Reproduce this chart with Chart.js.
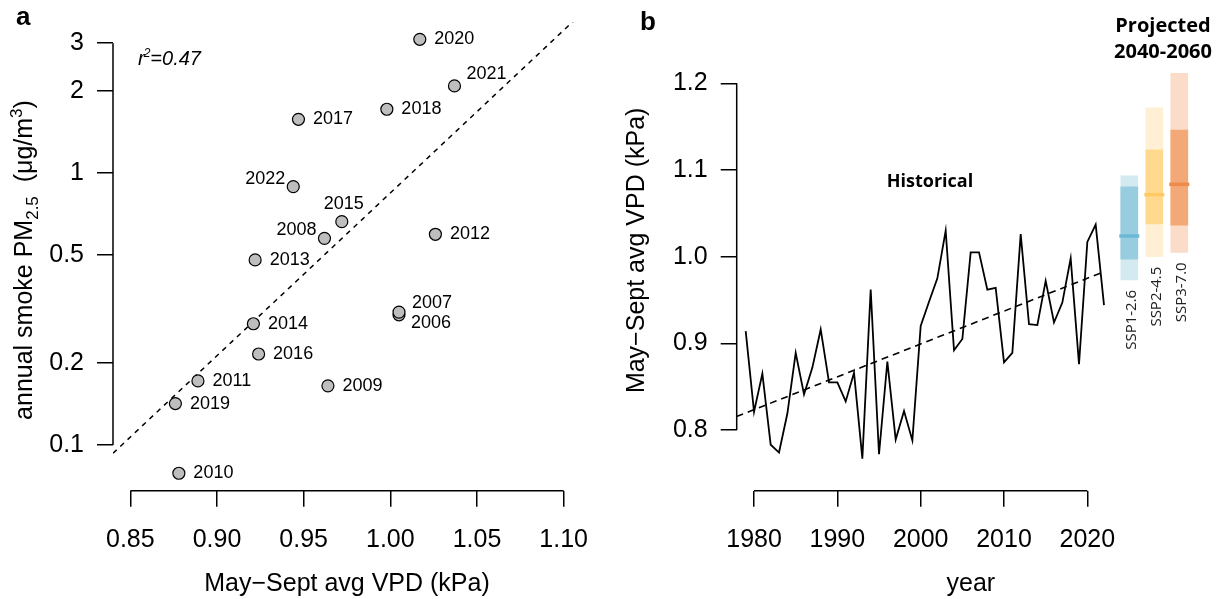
<!DOCTYPE html>
<html>
<head>
<meta charset="utf-8">
<script src="https://cdn.jsdelivr.net/npm/chart.js@4.4.1/dist/chart.umd.min.js"></script>
<style>
	html, body { margin: 0; padding: 0; background: #fff; }
	#wrap { position: relative; width: 1226px; height: 599px; overflow: hidden; }
	.box { position: absolute; top: 0; height: 599px; }
	#boxA { left: 0; width: 600px; }
	#boxB { left: 600px; width: 626px; }
	#boxP { left: 1100px; width: 126px; }
</style>
</head>
<body>
<div id="wrap">
	<div class="box" id="boxA"><canvas id="chart-a"></canvas></div>
	<div class="box" id="boxB"><canvas id="chart-b"></canvas></div>
	<div class="box" id="boxP"><canvas id="chart-p"></canvas></div>
</div>
<script>
( function() {
	'use strict';

	// May-Sept average VPD (kPa), 1979-2022
	var years = [1979, 1980, 1981, 1982, 1983, 1984, 1985, 1986, 1987, 1988,
		1989, 1990, 1991, 1992, 1993, 1994, 1995, 1996, 1997, 1998,
		1999, 2000, 2001, 2002, 2003, 2004, 2005, 2006, 2007, 2008,
		2009, 2010, 2011, 2012, 2013, 2014, 2015, 2016, 2017, 2018,
		2019, 2020, 2021, 2022];
	var vpd = [0.914, 0.821, 0.865, 0.783, 0.774, 0.819, 0.889, 0.841, 0.872, 0.916,
		0.855, 0.855, 0.833, 0.866, 0.767, 0.962, 0.772, 0.879, 0.789, 0.822,
		0.788, 0.920, 0.948, 0.975, 1.030, 0.892, 0.905, 1.005, 1.005, 0.962,
		0.964, 0.878, 0.889, 1.026, 0.922, 0.921, 0.972, 0.924, 0.947, 0.998,
		0.876, 1.017, 1.037, 0.944];
	var trendYears = [1977.9, 2022.1];
	var trendVpd = [0.8155, 0.983];

	// annual smoke PM2.5 (ug/m3), 2006-2022
	var smokeYears = [2006, 2007, 2008, 2009, 2010, 2011, 2012, 2013, 2014,
		2015, 2016, 2017, 2018, 2019, 2020, 2021, 2022];
	var smokePm = [0.301, 0.308, 0.575, 0.165, 0.0787, 0.172, 0.595, 0.479, 0.279,
		0.662, 0.216, 1.575, 1.715, 0.142, 3.10, 2.09, 0.891];
	var fitVpd = [0.84, 1.11];
	var fitPm = [0.0932, 3.84];
	var r2 = '0.47';

	// projected 2040-2060
	var scenarios = ['SSP1-2.6', 'SSP2-4.5', 'SSP3-7.0'];
	var projOuter = [[0.975, 1.096], [1.002, 1.175], [1.007, 1.215]];
	var projInner = [[0.999, 1.083], [1.040, 1.126], [1.0385, 1.149]];
	var projMedian = [1.026, 1.074, 1.086];

	var xTicksA = [0.85, 0.90, 0.95, 1.00, 1.05, 1.10];
	var yTicksA = [0.1, 0.2, 0.5, 1, 2, 3];
	var xTicksB = [1980, 1990, 2000, 2010, 2020];
	var yTicksB = [0.8, 0.9, 1.0, 1.1, 1.2];

	var FONT = "'Liberation Sans', Arial, sans-serif";
	var FONT2 = "'Open Sans', 'Noto Sans', sans-serif";
	var outerColors = ['#D3EAF1', '#FFF0D5', '#FBDCC8'];
	var innerColors = ['#98CDE0', '#FFDA8E', '#F2A877'];
	var medianColors = ['#6BB9D5', '#FFC965', '#EE8A4C'];

	Chart.defaults.font.family = FONT;
	Chart.defaults.color = '#000';
	Chart.defaults.animation = false;
	Chart.defaults.plugins.legend.display = false;
	Chart.defaults.plugins.tooltip.enabled = false;

	function setTicks(list) {
		return function(scale) {
			scale.ticks = list.map(function(v) { return {value: v}; });
		};
	}
	function fixSize(w, h) {
		return function(scale) {
			if (w !== null) scale.width = w;
			if (h !== null) scale.height = h;
			scale.paddingTop = 0; scale.paddingBottom = 0;
			scale.paddingLeft = 0; scale.paddingRight = 0;
		};
	}
	function rAxis(opts) {
		// R style: ticks outward, axis line only between first and last tick
		return Object.assign({
			border: {display: false},
			grid: {drawOnChartArea: false, drawTicks: true, tickLength: 16, color: '#000', lineWidth: 1.5},
			ticks: {font: {size: 25}, color: '#000', padding: 13, autoSkip: false, maxRotation: 0, minRotation: 0}
		}, opts);
	}

	var axisLines = {
		id: 'axisLines',
		afterDraw: function(chart) {
			var ctx = chart.ctx, area = chart.chartArea;
			var xs = chart.scales.x, ys = chart.scales.y;
			ctx.save();
			ctx.strokeStyle = '#000';
			ctx.lineWidth = 1.5;
			ctx.beginPath();
			ctx.moveTo(xs.getPixelForValue(xs.ticks[0].value), area.bottom);
			ctx.lineTo(xs.getPixelForValue(xs.ticks[xs.ticks.length - 1].value), area.bottom);
			ctx.moveTo(area.left, ys.getPixelForValue(ys.ticks[0].value));
			ctx.lineTo(area.left, ys.getPixelForValue(ys.ticks[ys.ticks.length - 1].value));
			ctx.stroke();
			ctx.restore();
		}
	};

	/**
	 * Painel a: fumaça x VPD
	 */
	var labelPlace = {
		2006: [12, 8, 'left'], 2007: [13, -9, 'left'], 2008: [-8, -8, 'right'],
		2015: [2, -18, 'center'], 2021: [12, -12, 'left'], 2022: [-8, -8, 'right']
	};

	var textA = {
		id: 'textA',
		afterDraw: function(chart) {
			var ctx = chart.ctx;
			ctx.save();
			ctx.fillStyle = '#000';

			// point labels
			ctx.font = '18px ' + FONT;
			ctx.textBaseline = 'middle';
			chart.getDatasetMeta(1).data.forEach(function(pt, i) {
				var p = labelPlace[smokeYears[i]] || [14.5, 0, 'left'];
				ctx.textAlign = p[2];
				ctx.fillText(String(smokeYears[i]), pt.x + p[0], pt.y + p[1]);
			});

			// panel letter
			ctx.textAlign = 'left';
			ctx.textBaseline = 'alphabetic';
			ctx.font = 'bold 26px ' + FONT;
			ctx.fillText('a', 16, 25);

			// r2
			var x = 138, y = 65;
			ctx.font = 'italic 20px ' + FONT;
			ctx.fillText('r', x, y);
			x += ctx.measureText('r').width;
			ctx.font = 'italic 12px ' + FONT;
			ctx.fillText('2', x - 1, y - 8);
			x += ctx.measureText('2').width - 1;
			ctx.font = 'italic 20px ' + FONT;
			ctx.fillText('=' + r2, x, y);

			// y title with subscript and superscript
			var parts = [
				['annual smoke PM', 25, 0], ['2.5', 17, 6], ['  (\u03bcg/m', 25, 0], ['3', 17, -10], [')', 25, 0]
			];
			var total = 0;
			parts.forEach(function(p) { ctx.font = p[1] + 'px ' + FONT; total += ctx.measureText(p[0]).width; });
			ctx.translate(32, 260);
			ctx.rotate(-Math.PI / 2);
			var cx = -total / 2;
			parts.forEach(function(p) {
				ctx.font = p[1] + 'px ' + FONT;
				ctx.fillText(p[0], cx, p[2]);
				cx += ctx.measureText(p[0]).width;
			});
			ctx.restore();
		}
	};

	var pointsA = smokeYears.map(function(yr, i) {
		return {x: vpd[years.indexOf(yr)], y: smokePm[i]};
	});

	new Chart(document.getElementById('chart-a'), {
		type: 'scatter',
		data: {
			datasets: [
				{
					type: 'line',
					data: [{x: fitVpd[0], y: fitPm[0]}, {x: fitVpd[1], y: fitPm[1]}],
					borderColor: '#000',
					borderWidth: 1.5,
					borderDash: [5, 5],
					pointRadius: 0,
					order: 2
				},
				{
					data: pointsA,
					pointRadius: 6,
					backgroundColor: '#BEBEBE',
					borderColor: '#000',
					borderWidth: 1.2,
					clip: false,
					order: 1
				}
			]
		},
		options: {
			responsive: true,
			maintainAspectRatio: false,
			layout: {padding: {top: 22, right: 19, left: 0, bottom: 0}},
			scales: {
				x: rAxis({
					type: 'linear',
					min: 0.84,
					max: 1.11,
					afterBuildTicks: setTicks(xTicksA),
					afterFit: fixSize(null, 108.3),
					ticks: {font: {size: 25}, color: '#000', padding: 18, autoSkip: false, maxRotation: 0, minRotation: 0,
						callback: function(v) { return v.toFixed(2); }},
					title: {display: true, text: 'May\u2212Sept avg VPD (kPa)', font: {size: 25}, color: '#000', padding: {top: 0, bottom: 0}}
				}),
				y: rAxis({
					type: 'logarithmic',
					min: 0.0679,
					max: 3.589,
					afterBuildTicks: setTicks(yTicksA),
					afterFit: fixSize(113, null),
					ticks: {font: {size: 25}, color: '#000', padding: 13, autoSkip: false,
						callback: function(v) { return String(v); }}
				})
			}
		},
		plugins: [axisLines, textA]
	});

	/**
	 * Painel b: série histórica de VPD
	 */
	var textB = {
		id: 'textB',
		afterDraw: function(chart) {
			var ctx = chart.ctx;
			ctx.save();
			ctx.fillStyle = '#000';
			ctx.textBaseline = 'alphabetic';
			ctx.textAlign = 'left';
			ctx.font = 'bold 26px ' + FONT;
			ctx.fillText('b', 40, 30);
			ctx.textAlign = 'center';
			ctx.textBaseline = 'middle';
			ctx.font = 'bold 18px ' + FONT2;
			ctx.fillText('Historical', 330, 182);
			ctx.restore();
		}
	};

	new Chart(document.getElementById('chart-b'), {
		type: 'line',
		data: {
			datasets: [
				{
					data: years.map(function(yr, i) { return {x: yr, y: vpd[i]}; }),
					borderColor: '#000',
					borderWidth: 1.8,
					pointRadius: 0,
					tension: 0
				},
				{
					data: trendYears.map(function(yr, i) { return {x: yr, y: trendVpd[i]}; }),
					borderColor: '#000',
					borderWidth: 1.6,
					borderDash: [7, 5],
					pointRadius: 0
				}
			]
		},
		options: {
			responsive: true,
			maintainAspectRatio: false,
			layout: {padding: {top: 10, right: 21, left: 0, bottom: 0}},
			scales: {
				x: rAxis({
					type: 'linear',
					min: 1977.92,
					max: 2034.12,
					afterBuildTicks: setTicks(xTicksB),
					afterFit: fixSize(null, 108.3),
					ticks: {font: {size: 25}, color: '#000', padding: 18, autoSkip: false, maxRotation: 0, minRotation: 0,
						callback: function(v) { return String(v); }},
					title: {display: true, text: 'year', font: {size: 25}, color: '#000', padding: {top: 0, bottom: 0}}
				}),
				y: rAxis({
					type: 'linear',
					min: 0.730,
					max: 1.2845,
					afterBuildTicks: setTicks(yTicksB),
					afterFit: fixSize(136.7, null),
					ticks: {font: {size: 25}, color: '#000', padding: 13, autoSkip: false,
						callback: function(v) { return v.toFixed(1); }},
					title: {display: true, text: 'May\u2212Sept avg VPD (kPa)', font: {size: 25}, color: '#000', padding: {top: 22, bottom: 0}}
				})
			}
		},
		plugins: [axisLines, textB]
	});

	/**
	 * Projeções 2040-2060
	 */
	var textP = {
		id: 'textP',
		afterDraw: function(chart) {
			var ctx = chart.ctx, xs = chart.scales.x, ys = chart.scales.y;
			ctx.save();
			ctx.fillStyle = '#000';
			ctx.textAlign = 'center';
			ctx.textBaseline = 'middle';
			ctx.font = 'bold 20px ' + FONT2;
			ctx.fillText('Projected', 63, 26);
			ctx.fillText('2040-2060', 63, 52);

			ctx.font = '15px ' + FONT2;
			ctx.fillStyle = '#222';
			ctx.textAlign = 'right';
			scenarios.forEach(function(s, i) {
				ctx.save();
				ctx.translate(xs.getPixelForValue(i) + 2, ys.getPixelForValue(projOuter[i][0]) + 10);
				ctx.rotate(-Math.PI / 2);
				ctx.fillText(s, 0, 0);
				ctx.restore();
			});
			ctx.restore();
		}
	};

	new Chart(document.getElementById('chart-p'), {
		type: 'bar',
		data: {
			labels: scenarios,
			datasets: [
				{
					type: 'line',
					data: projMedian,
					showLine: false,
					pointStyle: 'line',
					pointRadius: 10,
					pointBorderWidth: 3.5,
					pointBorderColor: medianColors,
					clip: false,
					order: 0
				},
				{
					data: projInner,
					backgroundColor: innerColors,
					grouped: false,
					barThickness: 17,
					clip: false,
					order: 1
				},
				{
					data: projOuter,
					backgroundColor: outerColors,
					grouped: false,
					barThickness: 17,
					clip: false,
					order: 2
				}
			]
		},
		options: {
			responsive: true,
			maintainAspectRatio: false,
			layout: {padding: {top: 10, right: 34.2, left: 16.8, bottom: 108.3}},
			scales: {
				x: {type: 'category', display: false, offset: true},
				y: {type: 'linear', display: false, min: 0.730, max: 1.2845}
			}
		},
		plugins: [textP]
	});
})();
</script>
</body>
</html>
